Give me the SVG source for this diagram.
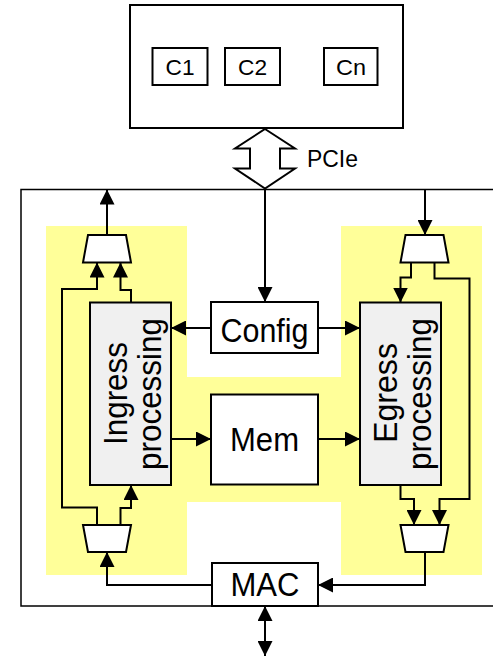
<svg xmlns="http://www.w3.org/2000/svg" width="493" height="657" viewBox="0 0 493 657">
<style>
.box{fill:#fff;stroke:#000;stroke-width:2}
.proc{fill:#f0f0f0;stroke:#000;stroke-width:2}
.mux{fill:#fff;stroke:#000;stroke-width:2;stroke-linejoin:miter}
.c{fill:none;stroke:#000;stroke-width:2;marker-end:url(#ah)}
.big{font-family:"Liberation Sans",Arial,sans-serif;font-size:34px;text-anchor:middle;fill:#000}
.sm{font-family:"Liberation Sans",Arial,sans-serif;font-size:22px;text-anchor:middle;fill:#000}
</style>
<defs>
<marker id="ah" viewBox="0 0 15 15" refX="15" refY="7.5" markerWidth="15" markerHeight="15" markerUnits="userSpaceOnUse" orient="auto-start-reverse">
<path d="M0,0 L15,7.5 L0,15 z" fill="#000"/>
</marker>
</defs>
<rect width="493" height="657" fill="#fff"/>
<g id="host">
<rect class="box" x="130" y="5" width="273" height="123"/>
</g>
<g id="c1"><rect class="box" x="152.5" y="48" width="55" height="37"/><text class="sm" x="180" y="74.5" textLength="29" lengthAdjust="spacingAndGlyphs">C1</text></g>
<g id="c2"><rect class="box" x="225" y="48" width="55" height="37"/><text class="sm" x="252.5" y="74.5" textLength="29" lengthAdjust="spacingAndGlyphs">C2</text></g>
<g id="cn"><rect class="box" x="324" y="48" width="53.5" height="37"/><text class="sm" x="351" y="74.5" textLength="30" lengthAdjust="spacingAndGlyphs">Cn</text></g>
<g id="nic">
<rect x="21" y="189.5" width="500" height="416.5" fill="#fff" stroke="#000" stroke-width="1.5"/>
<path d="M46,226 H187 V377 H341 V226 H482 V575 H341 V502 H187 V575 H46 Z" fill="#ffff99"/>
</g>
<g id="pcie">
<polygon points="265,129 295,148.5 280,148.5 280,168.5 295,168.5 265,188.5 235,168.5 250,168.5 250,148.5 235,148.5" fill="#fff" stroke="#000" stroke-width="2" stroke-linejoin="miter"/>
<text x="307" y="167" font-family="Liberation Sans,Arial,sans-serif" font-size="23" textLength="51" lengthAdjust="spacingAndGlyphs">PCIe</text>
</g>
<g id="ingress">
<rect class="proc" x="90" y="302.5" width="81" height="182.5"/>
<text class="big" transform="translate(127,393.5) rotate(-90)" textLength="103" lengthAdjust="spacingAndGlyphs">Ingress</text>
<text class="big" transform="translate(160.5,394) rotate(-90)" textLength="152" lengthAdjust="spacingAndGlyphs">processing</text>
</g>
<g id="egress">
<rect class="proc" x="360" y="302.5" width="81" height="182.5"/>
<text class="big" transform="translate(397,393) rotate(-90)" textLength="100" lengthAdjust="spacingAndGlyphs">Egress</text>
<text class="big" transform="translate(430.5,394) rotate(-90)" textLength="152" lengthAdjust="spacingAndGlyphs">processing</text>
</g>
<g id="config"><rect class="box" x="211" y="302" width="107" height="51"/><text class="big" x="264.5" y="342" textLength="88" lengthAdjust="spacingAndGlyphs">Config</text></g>
<g id="mem"><rect class="box" x="211" y="394.5" width="107" height="90"/><text class="big" x="264.5" y="451" textLength="69" lengthAdjust="spacingAndGlyphs">Mem</text></g>
<g id="mac"><rect class="box" x="212" y="563" width="106" height="43"/><text class="big" x="265" y="595.5" textLength="69" lengthAdjust="spacingAndGlyphs">MAC</text></g>
<g id="mux-tl"><polygon class="mux" points="88,235 126,235 131,262.5 83,262.5"/></g>
<g id="mux-bl"><polygon class="mux" points="83,525 131,525 126,552 88,552"/></g>
<g id="mux-tr"><polygon class="mux" points="405.5,235 443.5,235 448.5,262.5 400.5,262.5"/></g>
<g id="mux-br"><polygon class="mux" points="400.5,525 448.5,525 443.5,552 405.5,552"/></g>
<g id="connectors">
<path class="c" d="M107,235 V189.5"/>
<path class="c" d="M265,189.5 V302"/>
<path class="c" d="M211,328 H171"/>
<path class="c" d="M318,328 H360"/>
<path class="c" d="M171,439 H211"/>
<path class="c" d="M318,439 H360"/>
<path class="c" d="M97,525 V507.5 H62 V289 H97 V262.5"/>
<path class="c" d="M131,302.5 V290 H120.5 V262.5"/>
<path class="c" d="M120.5,525 V508 H131 V485"/>
<path class="c" d="M212,585 H107 V552"/>
<path class="c" d="M425,189.5 V235"/>
<path class="c" d="M411,262.5 V277.5 H400.5 V302.5"/>
<path class="c" d="M434.5,262.5 V278.5 H469.5 V499 H439.5 V525"/>
<path class="c" d="M400.5,485 V499 H414 V525"/>
<path class="c" d="M425,552 V585 H318"/>
<path class="c" d="M265,606 V656" marker-start="url(#ah)"/>
</g>
</svg>
